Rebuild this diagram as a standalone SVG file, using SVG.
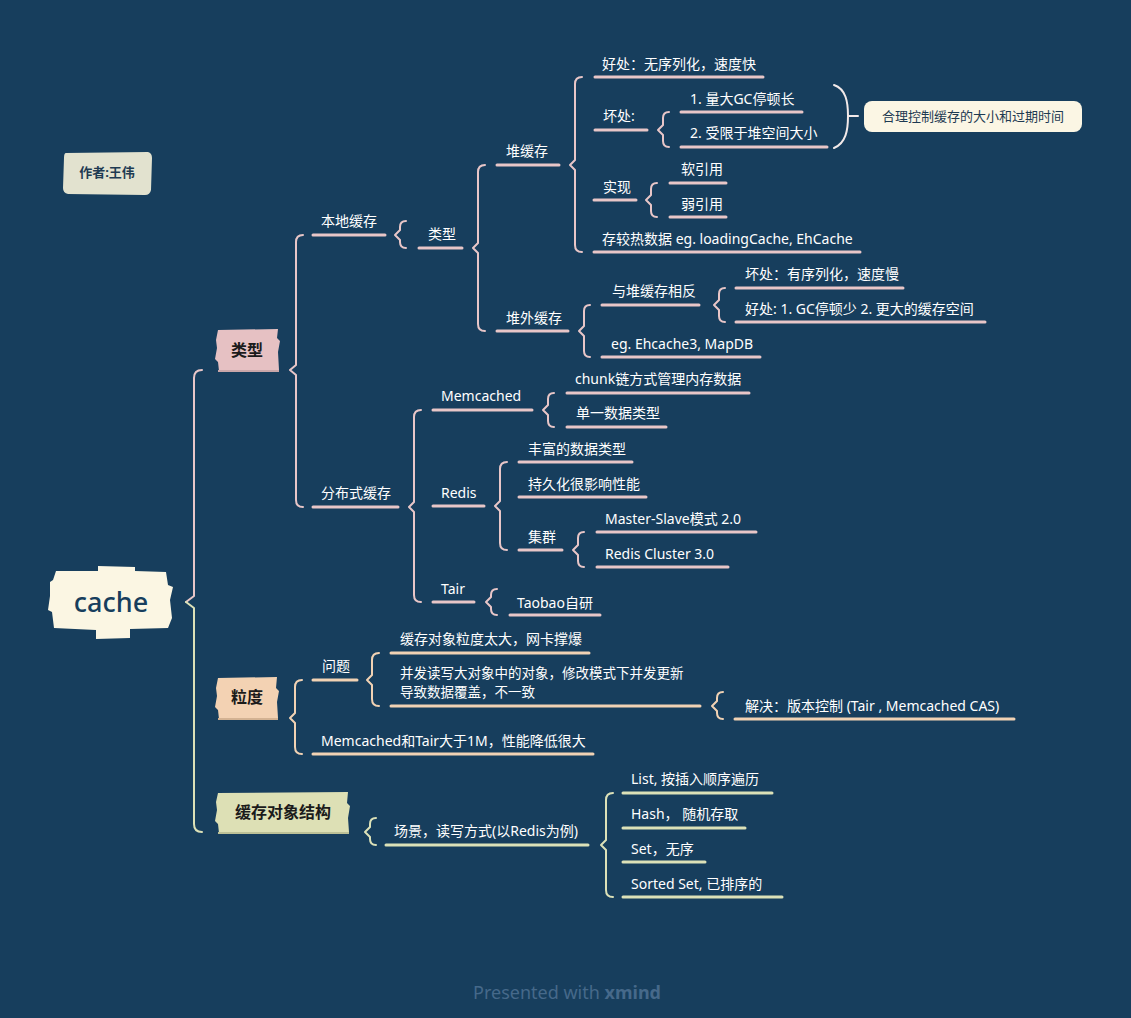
<svg xmlns="http://www.w3.org/2000/svg" width="1131" height="1018" viewBox="0 0 1131 1018">
<defs>
<style>
.bg{fill:#173E5D}
.t{font-family:"Noto Sans","Noto Sans CJK SC",sans-serif;font-size:14px;fill:#FFFFFF;dominant-baseline:central}
.l1{font-family:"Noto Sans","Noto Sans CJK SC",sans-serif;font-size:16px;font-weight:bold;fill:#1B1B1B;dominant-baseline:central;text-anchor:middle}
.br{fill:none;stroke-width:2;stroke-linecap:round;stroke-linejoin:round}
.ul{fill:none;stroke-width:3;stroke-linecap:round}
.pk{stroke:#E8C6C8}
.pc{stroke:#F1D2B4}
.gr{stroke:#DCE1B8}
</style>
</defs>
<rect class="bg" x="0" y="0" width="1131" height="1018"/>

<g id="connectors">
  <!-- root brace -->
  <path class="br pk" d="M202,370 Q194,370 194,378 V596 L186,602"/>
  <path class="br gr" d="M186,602 L194,608 V824 Q194,832 202,832"/>
  <!-- pink braces -->
  <path class="br pk" d="M303,235 Q296,235 296,242 V365 L290,370 L296,375 V500 Q296,507 303,507"/>
  <path class="br pk" d="M406,221 Q400,221 400,227 V230 L395,235 L400,240 V242 Q400,248 406,248"/>
  <path class="br pk" d="M485,165 Q478,165 478,172 V243 L473,248 L478,253 V324 Q478,331 485,331"/>
  <path class="br pk" d="M582,77 Q575,77 575,84 V160 L570,165 L575,170 V245 Q575,252 582,252"/>
  <path class="br pk" d="M669,112 Q663,112 663,118 V125 L658,130 L663,135 V141 Q663,147 669,147"/>
  <path class="br pk" d="M657,183 Q651,183 651,189 V195 L646,200 L651,205 V211 Q651,217 657,217"/>
  <path class="br pk" d="M590,305 Q584,305 584,311 V326 L579,331 L584,336 V351 Q584,357 590,357"/>
  <path class="br pk" d="M725,288 Q719,288 719,294 V300 L714,305 L719,310 V316 Q719,322 725,322"/>
  <path class="br pk" d="M421,410 Q414,410 414,417 V502 L409,507 L414,512 V595 Q414,602 421,602"/>
  <path class="br pk" d="M554,393 Q548,393 548,399 V405 L543,410 L548,415 V421 Q548,427 554,427"/>
  <path class="br pk" d="M507,462 Q500,462 500,469 V501 L495,506 L500,511 V543 Q500,550 507,550"/>
  <path class="br pk" d="M584,532 Q578,532 578,538 V545 L573,550 L578,555 V561 Q578,567 584,567"/>
  <path class="br pk" d="M497,589 Q491,589 491,595 V597 L486,602 L491,607 V609 Q491,615 497,615"/>
  <!-- summary -->
  <path class="br" stroke="#F2E9E9" d="M834,85 C846,89 848,102 848,116 C848,130 846,143 834,148"/>
  <path class="br" stroke="#F2E9E9" d="M849,116 H858"/>
  <!-- peach braces -->
  <path class="br pc" d="M302,680 Q295,680 295,687 V713 L290,718 L295,723 V747 Q295,754 302,754"/>
  <path class="br pc" d="M379,653 Q372,653 372,660 V675 L367,680 L372,685 V699 Q372,706 379,706"/>
  <path class="br pc" d="M723,692 Q717,692 717,698 V701 L712,706 L717,711 V713 Q717,719 723,719"/>
  <!-- green braces -->
  <path class="br gr" d="M376,818 Q370,818 370,824 V827 L365,832 L370,837 V839 Q370,845 376,845"/>
  <path class="br gr" d="M613,793 Q606,793 606,800 V840 L601,845 L606,850 V890 Q606,897 613,897"/>

  <!-- underlines pink -->
  <path class="ul pk" d="M313,235H385M313,507H398M419,248H462M497,165H559M497,331H568M595,77H763M595,130H647M594,200H636M594,252H860M681,112H802M681,147H827M670,183H726M670,217H726M602,305H699M602,357H760M736,288H903M736,322H985M433,410H532M433,506H484M433,602H474M567,393H749M567,427H666M519,462H632M519,497H646M519,550H562M597,532H756M597,567H728M510,615H600"/>
  <!-- underlines peach -->
  <path class="ul pc" d="M313,680H357M391,653H589M391,706H700M735,719H1014M313,754H593"/>
  <!-- underlines green -->
  <path class="ul gr" d="M386,845H588M623,793H772M623,828H745M623,862H705M623,897H782"/>
</g>

<g id="author">
  <path d="M66,153 L148,152 Q152,153 152,158 L151,190 Q150,195 145,195 L68,194 Q63,193 63,188 L64,158 Q64,153 66,153 Z" fill="#E2E2CF"/>
  <text class="t" x="107" y="172" text-anchor="middle" style="fill:#1E3A52;font-size:13px;font-weight:bold">作者:王伟</text>
</g>

<g id="root">
  <path d="M56,571 L98,571 L98,566 L135,567 L135,571 L166,572 L168,585 L173,587 L170,600 L172,618 L168,628 L130,629 L130,638 L96,639 L96,630 L54,628 L52,612 L48,610 L50,596 L50,582 L53,580 Z" fill="#FBF6E3"/>
  <text x="111" y="601" text-anchor="middle" dominant-baseline="central" style="font-family:'Noto Sans',sans-serif;font-size:27px;font-weight:500;fill:#173E5D">cache</text>
</g>

<g id="n-leixing">
  <path d="M218,330 L278,329 L277,338 L280,341 L278,352 L279,370 L219,371 L218,362 L215,359 L217,348 L216,340 Z" fill="#E6C1C3"/>
  <path d="M218,371 H279" stroke="#C9A6A9" stroke-width="2"/>
  <text class="l1" x="247" y="350">类型</text>
</g>
<g id="n-lidu">
  <path d="M218,678 L277,677 L276,688 L279,691 L277,702 L278,718 L219,719 L218,710 L215,707 L217,696 L216,688 Z" fill="#F3D2B3"/>
  <path d="M218,719 H278" stroke="#D3B292" stroke-width="2"/>
  <text class="l1" x="247" y="697">粒度</text>
</g>
<g id="n-jiegou">
  <path d="M218,793 L348,792 L347,803 L350,806 L348,818 L349,832 L219,833 L218,824 L215,821 L217,810 L216,802 Z" fill="#DDE0B5"/>
  <path d="M218,833 H349" stroke="#BCC097" stroke-width="2"/>
  <text class="l1" x="283" y="812">缓存对象结构</text>
</g>

<g id="n-bendi"><text class="t" x="321" y="220">本地缓存</text></g>
<g id="n-fenbu"><text class="t" x="321" y="492">分布式缓存</text></g>
<g id="n-leixing2"><text class="t" x="428" y="233">类型</text></g>
<g id="n-duihuancun"><text class="t" x="506" y="150">堆缓存</text></g>
<g id="n-duiwai"><text class="t" x="506" y="317">堆外缓存</text></g>
<g id="n-haochu"><text class="t" x="602" y="63">好处：无序列化，速度快</text></g>
<g id="n-huaichu"><text class="t" x="603" y="115">坏处:</text></g>
<g id="n-shixian"><text class="t" x="603" y="186">实现</text></g>
<g id="n-cunjiao"><text class="t" x="602" y="238">存较热数据 eg. loadingCache, EhCache</text></g>
<g id="n-h1"><text class="t" x="690" y="98">1. 量大GC停顿长</text></g>
<g id="n-h2"><text class="t" x="690" y="132">2. 受限于堆空间大小</text></g>
<g id="n-callout">
  <rect x="864" y="101" width="218" height="31" rx="8" fill="#FBF6E4"/>
  <text class="t" x="973" y="116" text-anchor="middle" style="fill:#1E3A52;font-size:13px">合理控制缓存的大小和过期时间</text>
</g>
<g id="n-ruan"><text class="t" x="681" y="168">软引用</text></g>
<g id="n-ruo"><text class="t" x="681" y="203">弱引用</text></g>
<g id="n-xiangfan"><text class="t" x="612" y="290">与堆缓存相反</text></g>
<g id="n-ehcache"><text class="t" x="611" y="343">eg. Ehcache3, MapDB</text></g>
<g id="n-huai2"><text class="t" x="745" y="273">坏处：有序列化，速度慢</text></g>
<g id="n-hao2"><text class="t" x="745" y="308">好处: 1. GC停顿少 2. 更大的缓存空间</text></g>
<g id="n-memcached"><text class="t" x="441" y="395">Memcached</text></g>
<g id="n-redis"><text class="t" x="441" y="492">Redis</text></g>
<g id="n-tair"><text class="t" x="441" y="588">Tair</text></g>
<g id="n-chunk"><text class="t" x="575" y="378">chunk链方式管理内存数据</text></g>
<g id="n-danyi"><text class="t" x="576" y="412">单一数据类型</text></g>
<g id="n-fengfu"><text class="t" x="528" y="448">丰富的数据类型</text></g>
<g id="n-chijiu"><text class="t" x="528" y="483">持久化很影响性能</text></g>
<g id="n-jiqun"><text class="t" x="528" y="536">集群</text></g>
<g id="n-ms"><text class="t" x="605" y="518">Master-Slave模式 2.0</text></g>
<g id="n-cluster"><text class="t" x="605" y="553">Redis Cluster 3.0</text></g>
<g id="n-taobao"><text class="t" x="517" y="602">Taobao自研</text></g>
<g id="n-wenti"><text class="t" x="322" y="665">问题</text></g>
<g id="n-lidutai"><text class="t" x="400" y="638">缓存对象粒度太大，网卡撑爆</text></g>
<g id="n-bingfa"><text class="t" x="400" y="673" style="font-size:13.5px">并发读写大对象中的对象，修改模式下并发更新</text><text class="t" x="400" y="692" style="font-size:13.5px">导致数据覆盖，不一致</text></g>
<g id="n-jiejue"><text class="t" x="745" y="705">解决：版本控制 (Tair , Memcached CAS)</text></g>
<g id="n-1m"><text class="t" x="321" y="740">Memcached和Tair大于1M，性能降低很大</text></g>
<g id="n-changjing"><text class="t" x="394" y="830">场景，读写方式(以Redis为例)</text></g>
<g id="n-list"><text class="t" x="631" y="778">List, 按插入顺序遍历</text></g>
<g id="n-hash"><text class="t" x="631" y="813">Hash， 随机存取</text></g>
<g id="n-set"><text class="t" x="631" y="848">Set，无序</text></g>
<g id="n-sorted"><text class="t" x="631" y="883">Sorted Set, 已排序的</text></g>

<text x="567" y="999" text-anchor="middle" style="font-family:'Noto Sans',sans-serif;font-size:18px;fill:#46698A">Presented with <tspan font-weight="bold">xmind</tspan></text>
</svg>
